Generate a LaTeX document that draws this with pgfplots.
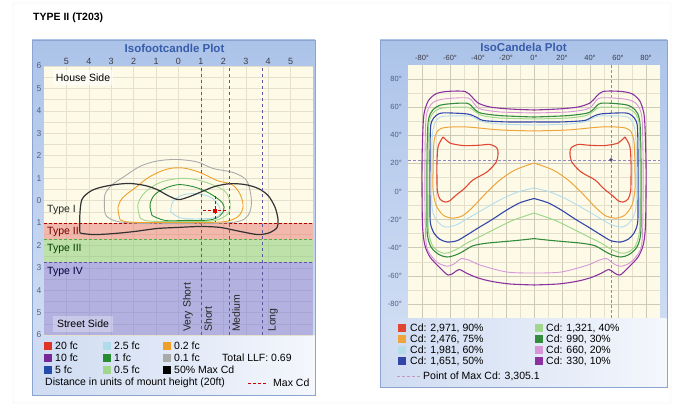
\documentclass[border=0pt]{standalone}
\usepackage{pgfplots}
\usepackage{pgfplotstable}
\pgfplotsset{compat=1.18}
\usepackage{fontspec}
\setmainfont{Liberation Sans}

\definecolor{cream}{RGB}{253,251,232}
\definecolor{gridc}{RGB}{228,224,204}
\definecolor{frA}{RGB}{172,195,233}
\definecolor{frB}{RGB}{214,226,245}
\definecolor{lgA}{RGB}{206,219,242}
\definecolor{lgB}{RGB}{244,247,252}
\definecolor{frline}{RGB}{140,165,208}
\definecolor{titleblue}{RGB}{55,92,172}
\definecolor{tickc}{RGB}{60,60,70}
\definecolor{ytickc}{RGB}{80,95,135}
\definecolor{bandred}{RGB}{236,129,123}
\definecolor{bandgreen}{RGB}{138,204,119}
\definecolor{bandpurple}{RGB}{120,118,219}
\definecolor{vdash}{RGB}{95,85,165}
% left legend colours
\definecolor{c20}{RGB}{225,50,40}
\definecolor{c10}{RGB}{120,40,150}
\definecolor{c5}{RGB}{35,75,170}
\definecolor{c25}{RGB}{175,220,235}
\definecolor{c1}{RGB}{40,140,50}
\definecolor{c05}{RGB}{160,215,140}
\definecolor{c02}{RGB}{240,160,40}
\definecolor{c01}{RGB}{170,170,170}
% right legend colours
\definecolor{r90}{RGB}{225,70,50}
\definecolor{r75}{RGB}{240,165,60}
\definecolor{r60}{RGB}{180,220,235}
\definecolor{r50}{RGB}{50,70,170}
\definecolor{r40}{RGB}{160,215,140}
\definecolor{r30}{RGB}{50,140,60}
\definecolor{r20}{RGB}{215,150,215}
\definecolor{r10}{RGB}{140,50,160}
\definecolor{maxc}{RGB}{200,150,190}

% IsoCandela contours, left half (x<=0), mirrored for the right half
\pgfplotstableread{
x y
0 58.0
-17.1 58.7
-31.4 60.1
-40.0 63.0
-44.3 67.3
-49.3 71.2
-62.0 71.2
-70.0 69.5
-75.5 64.5
-78.6 55.0
-79.5 40.0
-80.0 20.0
-80.0 0
-79.6 -25.0
-78.0 -38.0
-74.3 -46.6
-67.1 -54.4
-61.4 -59.4
-57.5 -58.0
-53.5 -55.5
-48.0 -58.2
-40.0 -61.5
-30.0 -64.0
-17.1 -65.8
0 -66.5
}\cdPur
\pgfplotstableread{
x y
0 55.9
-24.3 56.6
-38.0 58.6
-42.0 61.5
-47.0 66.5
-63.0 66.0
-71.0 64.0
-75.5 59.0
-77.3 50.0
-77.9 22.4
-77.9 -6.0
-77.5 -30.0
-76.0 -41.6
-69.3 -50.2
-62.1 -53.2
-57.0 -51.5
-52.0 -47.8
-46.0 -49.0
-38.6 -52.3
-19.3 -57.3
0 -58.0
}\cdPink
\pgfplotstableread{
x y
0 53.0
-24.3 54.0
-38.0 55.8
-42.5 58.5
-47.9 62.8
-64.0 62.0
-70.0 60.0
-74.0 55.5
-75.8 47.0
-76.4 22.4
-76.4 -6.0
-76.2 -30.0
-73.5 -39.5
-68.0 -44.8
-62.1 -46.6
-56.0 -45.2
-51.0 -42.8
-43.6 -38.6
-34.0 -36.8
-24.3 -35.9
-12.0 -34.8
0 -33.5
}\cdDkg
\pgfplotstableread{
x y
0 51.6
-24.3 52.3
-37.0 54.0
-42.0 56.8
-47.9 60.0
-65.0 59.4
-71.0 57.0
-74.3 52.0
-75.3 45.0
-75.7 22.4
-75.7 -6.0
-75.4 -28.0
-72.5 -38.5
-67.5 -43.0
-62.1 -43.8
-55.0 -41.0
-47.9 -36.7
-38.0 -31.8
-29.3 -27.4
-15.0 -20.5
0 -15.3
}\cdLtg
\pgfplotstableread{
x y
0 49.5
-19.3 49.5
-36.0 50.5
-41.0 52.8
-47.9 55.2
-65.0 55.9
-70.0 54.0
-73.0 50.0
-74.0 44.0
-74.3 22.4
-74.3 -10.0
-74.0 -22.4
-71.5 -29.5
-67.5 -33.8
-62.1 -35.9
-55.0 -35.0
-48.0 -31.0
-40.0 -26.0
-30.0 -20.0
-20.0 -13.5
-10.0 -8.0
0 -5.0
}\cdBlue
\pgfplotstableread{
x y
0 47.3
-24.3 48.0
-37.1 49.8
-42.0 52.2
-46.5 53.7
-65.0 53.5
-70.0 50.2
-72.1 44.0
-72.9 35.0
-72.9 22.4
-72.9 -9.6
-70.5 -19.0
-66.0 -24.0
-62.1 -25.3
-55.0 -23.5
-47.9 -19.5
-35.0 -12.0
-24.3 -6.0
-12.0 -0.5
0 2.5
}\cdCyan
\pgfplotstableread{
x y
0 43.1
-24.3 43.8
-47.9 45.9
-63.0 45.6
-68.5 43.5
-71.0 38.0
-71.8 30.0
-72.1 15.0
-72.1 1.1
-70.0 -9.6
-65.0 -16.7
-58.6 -18.9
-51.4 -17.4
-44.3 -11.7
-33.6 -0.4
-24.3 8.2
-13.6 15.3
0 20.3
}\cdOrange
\pgfplotstableread{
x y
-65.0 38.8
-60.0 34.5
-53.0 33.0
-47.9 32.6
-38.0 33.0
-31.4 33.5
-26.5 31.0
-25.7 27.0
-27.0 21.0
-33.6 13.9
-43.6 8.2
-49.3 2.5
-56.4 -3.2
-60.0 -6.5
-63.5 -7.5
-67.1 -5.5
-69.0 0
-69.3 10.0
-69.3 20.3
-68.5 32.0
-65.0 38.8
}\cdRed

\begin{document}
\begin{tikzpicture}[x=1pt,y=1pt]
\useasboundingbox (0,0) rectangle (675,408);
\fill[white] (0,0) rectangle (675,408);
\draw[black!8, rounded corners=2pt] (13,5) rectangle (671,405);
\node[anchor=west, font=\bfseries\fontsize{10.5}{12}\selectfont, inner sep=0pt] at (33,390) {TYPE II (T203)};

% ---------- left frame ----------
\shade[top color=frA, bottom color=frB] (32,13) rectangle (315,368);
\shade[left color=lgA, right color=lgB] (32.5,13.5) rectangle (314.5,72.5);
\draw[frline] (32,13) rectangle (315,368);
\node[font=\bfseries\fontsize{11.5}{12}\selectfont, text=titleblue] at (174.5,360) {Isofootcandle Plot};

\begin{axis}[
  at={(44pt,73pt)}, anchor=south west, scale only axis,
  width=269pt, height=269pt,
  xmin=-6, xmax=6, ymin=-6, ymax=6,
  axis background/.style={fill=cream},
  axis line style={draw=none},
  tick style={draw=none},
  major tick length=0pt, minor tick length=0pt,
  xtick={-5,...,5}, xticklabels={5,4,3,2,1,0,1,2,3,4,5},
  ytick={-6,...,6}, yticklabels={6,5,4,3,2,1,0,1,2,3,4,5,6},
  minor ytick={-5.5,-4.5,...,5.5},
  xticklabel pos=upper,
  grid=both,
  major grid style={draw=gridc, line width=0.5pt},
  minor grid style={draw=gridc, line width=0.4pt},
  xticklabel style={font=\fontsize{9}{9}\selectfont, text=tickc, inner sep=0.8pt},
  yticklabel style={font=\fontsize{8.5}{9}\selectfont, text=ytickc, inner sep=2.5pt},
]
% classification bands
\addplot[draw=none, fill=bandred, fill opacity=0.55] coordinates {(-6,-1) (6,-1) (6,-1.75) (-6,-1.75)};
\addplot[draw=none, fill=bandgreen, fill opacity=0.55] coordinates {(-6,-1.75) (6,-1.75) (6,-2.75) (-6,-2.75)};
\addplot[draw=none, fill=bandpurple, fill opacity=0.55] coordinates {(-6,-2.75) (6,-2.75) (6,-6) (-6,-6)};
\addplot[densely dashed, color=red!70!black, line width=0.6pt] coordinates {(-6,-1) (6,-1)};
\addplot[densely dashed, color=green!40!gray, line width=0.6pt] coordinates {(-6,-1.75) (6,-1.75)};
\addplot[densely dashed, color=vdash, line width=0.6pt] coordinates {(-6,-2.75) (6,-2.75)};
% isofootcandle contours
\addplot[smooth, tension=0.55, c01, line width=0.9pt] coordinates {(-3.30,-0.40) (-3.28,0.27) (-2.95,0.71) (-2.48,1.03) (-1.72,1.52) (-0.96,1.76) (-0.07,1.83) (0.83,1.72) (1.54,1.43) (2.43,1.25) (3.00,0.94) (3.20,0.40) (3.25,-0.18) (3.10,-0.67) (2.65,-0.94) (1.41,-1.03) (0,-1.03) (-1.5,-1.03) (-2.70,-0.94) (-3.20,-0.71) (-3.30,-0.40)};
\addplot[smooth, tension=0.55, c02, line width=0.9pt] coordinates {(-2.61,-0.85) (-2.70,-0.31) (-2.48,0.13) (-1.85,0.63) (-1.27,1.07) (-0.51,1.40) (0.20,1.45) (0.96,1.25) (1.72,0.89) (2.39,0.71) (2.75,0.27) (2.88,-0.27) (2.66,-0.71) (2.08,-0.94) (0.96,-0.98) (-0.38,-0.98) (-1.72,-0.98) (-2.39,-0.94) (-2.61,-0.85)};
\addplot[smooth, tension=0.55, c05, line width=0.9pt] coordinates {(-1.72,-0.76) (-1.81,-0.18) (-1.50,0.36) (-0.83,0.80) (0,0.98) (0.74,0.94) (1.50,0.71) (2.08,0.40) (2.30,-0.09) (2.21,-0.58) (1.63,-0.89) (0.51,-0.94) (-0.83,-0.94) (-1.5,-0.89) (-1.72,-0.76)};
\addplot[smooth, tension=0.55, c1, line width=0.9pt] coordinates {(-1.18,-0.67) (-1.27,-0.18) (-1.05,0.27) (-0.51,0.58) (0.07,0.71) (0.78,0.58) (1.40,0.31) (1.95,-0.10) (2.00,-0.50) (1.50,-0.85) (0.29,-0.89) (-0.60,-0.89) (-1.18,-0.67)};
\addplot[smooth, tension=0.55, c25, line width=0.9pt] coordinates {(-0.35,-0.5) (-0.25,-0.05) (0.2,0.25) (0.9,0.30) (1.5,0.10) (1.85,-0.35) (1.75,-0.72) (1.0,-0.82) (0.1,-0.78) (-0.35,-0.5)};
% 50% max cd
\addplot[smooth, tension=0.5, black!80, line width=1.2pt] coordinates {(-4.40,-1.43) (-4.40,-0.63) (-4.31,0.04) (-3.95,0.40) (-3.50,0.58) (-2.83,0.71) (-2.17,0.76) (-1.50,0.67) (-0.96,0.49) (-0.47,0.22) (0,0.04) (0.51,0.18) (1.05,0.40) (1.63,0.63) (2.30,0.75) (2.97,0.71) (3.55,0.54) (4.0,0.22) (4.31,-0.31) (4.44,-0.85) (4.40,-1.2) (4.08,-1.43) (3.55,-1.52) (2.75,-1.38) (1.85,-1.2) (0.96,-1.16) (0,-1.2) (-0.96,-1.25) (-1.94,-1.38) (-2.83,-1.47) (-3.73,-1.52) (-4.31,-1.47) (-4.40,-1.43)};
% distance classification lines
\addplot[dashed, vdash, line width=0.8pt] coordinates {(1,-6) (1,6)};
\addplot[dashed, vdash, line width=0.8pt] coordinates {(2.25,-6) (2.25,6)};
\addplot[dashed, vdash, line width=0.8pt] coordinates {(3.75,-6) (3.75,6)};
% max cd marker
\addplot[densely dashed, red!85!black, line width=0.7pt] coordinates {(1.63,0.18) (1.63,-0.98)};
\addplot[densely dashed, red!85!black, line width=0.7pt] coordinates {(1.1,-0.45) (2.1,-0.45)};
\addplot[only marks, mark=square*, mark size=1.6pt, color=red!90!black] coordinates {(1.63,-0.45)};
\end{axis}

% labels in left plot
\node[fill=white, fill opacity=0.6, text opacity=1, font=\fontsize{10.5}{11}\selectfont, inner sep=2pt, minimum width=60pt, minimum height=15pt] at (83,330) {House Side};
\node[fill=white, fill opacity=0.3, text opacity=1, font=\fontsize{10.5}{11}\selectfont, inner sep=2pt, minimum width=60pt, minimum height=16pt] at (83,84) {Street Side};
\begin{scope}[font=\fontsize{10.5}{11}\selectfont, text=black!85]
\node[anchor=west, inner sep=0pt] at (47,198) {Type I};
\node[anchor=west, inner sep=0pt, text=red!45!black] at (47,176) {Type II};
\node[anchor=west, inner sep=0pt, text=green!25!black] at (47,159) {Type III};
\node[anchor=west, inner sep=0pt, text=blue!25!black] at (47,136) {Type IV};
\node[rotate=90, anchor=west, inner sep=1pt] at (188,75) {Very Short};
\node[rotate=90, anchor=west, inner sep=1pt] at (208,75) {Short};
\node[rotate=90, anchor=west, inner sep=1pt] at (236,75) {Medium};
\node[rotate=90, anchor=west, inner sep=1pt] at (273,75) {Long};
\end{scope}

% left legend
\begin{scope}[font=\fontsize{10.5}{11}\selectfont]
\fill[c20] (44,58) rectangle (52,66);  \node[anchor=west, inner sep=0pt] at (55,62) {20 fc};
\fill[c10] (44,46) rectangle (52,54);  \node[anchor=west, inner sep=0pt] at (55,50) {10 fc};
\fill[c5]  (44,34) rectangle (52,42);  \node[anchor=west, inner sep=0pt] at (55,38) {5 fc};
\fill[c25] (103,58) rectangle (111,66); \node[anchor=west, inner sep=0pt] at (114,62) {2.5 fc};
\fill[c1]  (103,46) rectangle (111,54); \node[anchor=west, inner sep=0pt] at (114,50) {1 fc};
\fill[c05] (103,34) rectangle (111,42); \node[anchor=west, inner sep=0pt] at (114,38) {0.5 fc};
\fill[c02] (163,58) rectangle (171,66); \node[anchor=west, inner sep=0pt] at (174,62) {0.2 fc};
\fill[c01] (163,46) rectangle (171,54); \node[anchor=west, inner sep=0pt] at (174,50) {0.1 fc};
\fill[black] (163,34) rectangle (171,42); \node[anchor=west, inner sep=0pt] at (174,38) {50\% Max Cd};
\node[anchor=west, inner sep=0pt] at (222,50) {Total LLF: 0.69};
\node[anchor=west, inner sep=0pt] at (45,25) {Distance in units of mount height (20ft)};
\draw[densely dashed, red!80!black, line width=0.8pt] (248,25) -- (268,25);
\node[anchor=west, inner sep=0pt] at (273,25) {Max Cd};
\end{scope}

% ---------- right frame ----------
\shade[top color=frA, bottom color=frB] (380,21) rectangle (667,368);
\shade[left color=lgA, right color=lgB] (380.5,21.5) rectangle (666.5,89.5);
\draw[frline] (380,21) rectangle (667,368);
\node[font=\bfseries\fontsize{11.5}{12}\selectfont, text=titleblue] at (523.5,361) {IsoCandela Plot};

\begin{axis}[
  at={(408pt,90pt)}, anchor=south west, scale only axis,
  width=252pt, height=253pt,
  xmin=-90, xmax=90, ymin=-90, ymax=90,
  axis background/.style={fill=cream},
  axis line style={draw=none},
  tick style={draw=none},
  major tick length=0pt, minor tick length=0pt,
  xtick={-80,-60,...,80},
  xticklabels={-80°,-60°,-40°,-20°,0°,20°,40°,60°,80°},
  ytick={-80,-60,...,80},
  yticklabels={-80°,-60°,-40°,-20°,0°,20°,40°,60°,80°},
  minor xtick={-70,-50,...,70},
  minor ytick={-70,-50,...,70},
  xticklabel pos=upper,
  grid=both,
  major grid style={draw=gridc!90!black, line width=0.5pt},
  minor grid style={draw=gridc, line width=0.35pt},
  xticklabel style={font=\fontsize{7.5}{8}\selectfont, text=tickc, inner sep=2pt, yshift=2.5pt},
  yticklabel style={font=\fontsize{7.5}{8}\selectfont, text=ytickc, inner sep=2pt, xshift=-4pt},
]
\addplot[densely dashed, vdash!70, line width=0.7pt] coordinates {(-90,22.5) (90,22.5)};
\addplot[densely dashed, vdash!70, line width=0.7pt] coordinates {(55,-90) (55,90)};
\addplot[smooth, tension=0.5, r10, line width=1.1pt] table {\cdPur};
\addplot[smooth, tension=0.5, r10, line width=1.1pt] table[x expr=-\thisrow{x}] {\cdPur};
\addplot[smooth, tension=0.5, r20, line width=0.9pt] table {\cdPink};
\addplot[smooth, tension=0.5, r20, line width=0.9pt] table[x expr=-\thisrow{x}] {\cdPink};
\addplot[smooth, tension=0.5, r30, line width=1.1pt] table {\cdDkg};
\addplot[smooth, tension=0.5, r30, line width=1.1pt] table[x expr=-\thisrow{x}] {\cdDkg};
\addplot[smooth, tension=0.5, r40, line width=1.0pt] table {\cdLtg};
\addplot[smooth, tension=0.5, r40, line width=1.0pt] table[x expr=-\thisrow{x}] {\cdLtg};
\addplot[smooth, tension=0.5, r50, line width=1.1pt] table {\cdBlue};
\addplot[smooth, tension=0.5, r50, line width=1.1pt] table[x expr=-\thisrow{x}] {\cdBlue};
\addplot[smooth, tension=0.5, r60, line width=0.9pt] table {\cdCyan};
\addplot[smooth, tension=0.5, r60, line width=0.9pt] table[x expr=-\thisrow{x}] {\cdCyan};
\addplot[smooth, tension=0.5, r75, line width=1.0pt] table {\cdOrange};
\addplot[smooth, tension=0.5, r75, line width=1.0pt] table[x expr=-\thisrow{x}] {\cdOrange};
\addplot[smooth, tension=0.5, r90, line width=1.1pt] table {\cdRed};
\addplot[smooth, tension=0.5, r90, line width=1.1pt] table[x expr=-\thisrow{x}] {\cdRed};
\addplot[only marks, mark=*, mark size=1.5pt, color=vdash!80!black] coordinates {(55,22.5)};
\end{axis}

% right legend
\begin{scope}[font=\fontsize{10.5}{11}\selectfont]
\fill[r90] (398,76) rectangle (406,84); \node[anchor=west, inner sep=0pt] at (410,80) {Cd: 2,971, 90\%};
\fill[r75] (398,65) rectangle (406,73); \node[anchor=west, inner sep=0pt] at (410,69) {Cd: 2,476, 75\%};
\fill[r60] (398,54) rectangle (406,62); \node[anchor=west, inner sep=0pt] at (410,58) {Cd: 1,981, 60\%};
\fill[r50] (398,43) rectangle (406,51); \node[anchor=west, inner sep=0pt] at (410,47) {Cd: 1,651, 50\%};
\fill[r40] (535,76) rectangle (543,84); \node[anchor=west, inner sep=0pt] at (546,80) {Cd: 1,321, 40\%};
\fill[r30] (535,65) rectangle (543,73); \node[anchor=west, inner sep=0pt] at (546,69) {Cd: 990, 30\%};
\fill[r20] (535,54) rectangle (543,62); \node[anchor=west, inner sep=0pt] at (546,58) {Cd: 660, 20\%};
\fill[r10] (535,43) rectangle (543,51); \node[anchor=west, inner sep=0pt] at (546,47) {Cd: 330, 10\%};
\draw[densely dashed, maxc, line width=0.8pt] (397,32) -- (420,32);
\node[anchor=west, inner sep=0pt] at (423,32) {Point of Max Cd: 3,305.1};
\end{scope}
\end{tikzpicture}
\end{document}
